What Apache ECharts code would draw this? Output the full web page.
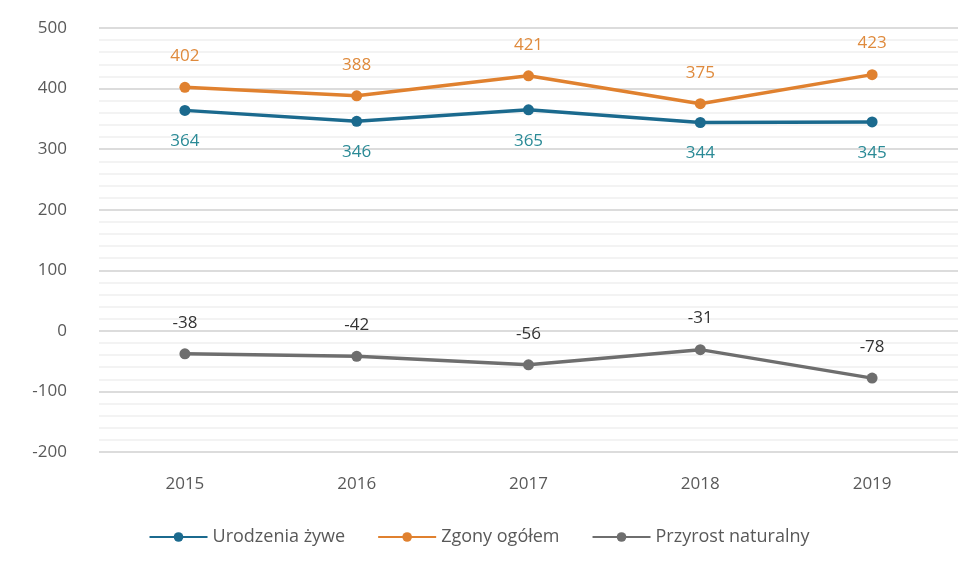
<!DOCTYPE html>
<html>
<head>
<meta charset="utf-8">
<script src="https://cdn.jsdelivr.net/npm/echarts@6/dist/echarts.min.js"></script>
<style>
  html, body { margin: 0; padding: 0; background: #fff; }
</style>
</head>
<body>
<div id="main" style="width: 958px;height:563px;"></div>
<script>
// dane z wykresu
var years = ['2015', '2016', '2017', '2018', '2019'];
var urodzenia = [364, 346, 365, 344, 345];
var zgony = [402, 388, 421, 375, 423];
var przyrost = [-38, -42, -56, -31, -78];

var font = 'Open Sans';

var myChart = echarts.init(document.getElementById('main'));

function lineSeries(name, data, color, labelColor, pos) {
  return {
    name: name,
    type: 'line',
    data: data,
    symbol: 'circle',
    symbolSize: 11,
    lineStyle: { width: 3.5, color: color },
    itemStyle: { color: color },
    label: {
      show: true,
      position: pos,
      distance: 17,
      color: labelColor,
      fontSize: 17,
      fontFamily: font
    }
  };
}

var option = {
  animation: false,
  backgroundColor: '#fff',
  grid: {
    left: 99,
    right: 0,
    top: 28,
    bottom: 111
  },
  legend: {
    bottom: 12,
    left: 'center',
    itemGap: 32,
    itemWidth: 58,
    itemHeight: 12,
    textStyle: { color: '#595959', fontSize: 18, fontFamily: font },
    data: ['Urodzenia żywe', 'Zgony ogółem', 'Przyrost naturalny']
  },
  xAxis: {
    type: 'category',
    data: years,
    axisLine: { show: false },
    axisTick: { show: false },
    axisLabel: { color: '#595959', fontSize: 17, fontFamily: font, margin: 24 }
  },
  yAxis: {
    type: 'value',
    min: -200,
    max: 500,
    interval: 100,
    axisLabel: { color: '#595959', fontSize: 17, fontFamily: font, margin: 32 },
    splitLine: { lineStyle: { color: '#dcdcdc', width: 2 } },
    minorTick: { show: false, splitNumber: 5 },
    minorSplitLine: { show: true, lineStyle: { color: '#efefef', width: 1.5 } }
  },
  series: [
    lineSeries('Urodzenia żywe', urodzenia, '#1b6a8e', '#2a8a96', 'bottom'),
    lineSeries('Zgony ogółem', zgony, '#e0812f', '#df8a3c', 'top'),
    lineSeries('Przyrost naturalny', przyrost, '#6e6e6e', '#333333', 'top')
  ]
};

myChart.setOption(option);
</script>
</body>
</html>
